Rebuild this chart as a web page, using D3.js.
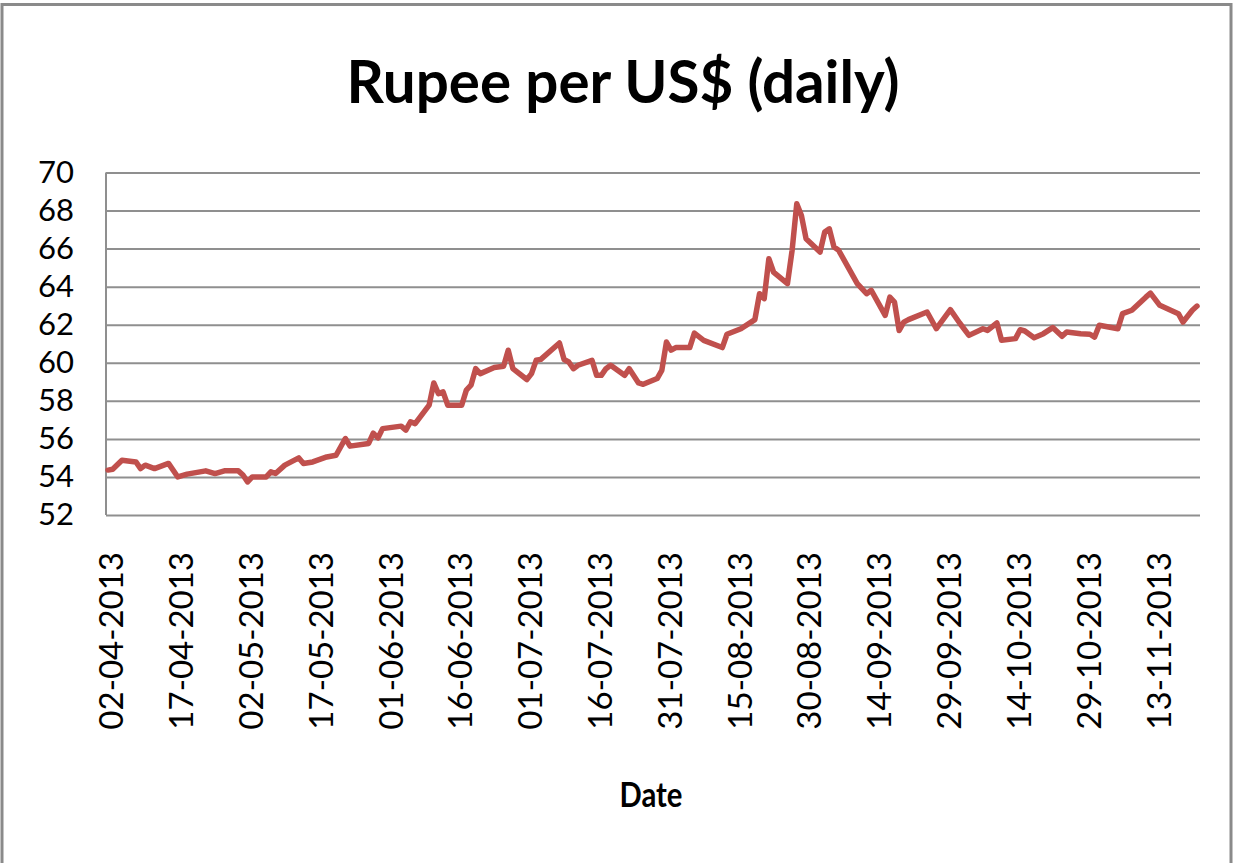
<!DOCTYPE html>
<html>
<head>
<meta charset="utf-8">
<script src="https://cdn.jsdelivr.net/npm/d3@7"></script>
<style>
  html, body { margin: 0; padding: 0; background: #fff; }
  svg { display: block; }
  text { font-family: Lato, "Open Sans", sans-serif; fill: #000; }
</style>
</head>
<body>
<svg id="chart" width="1234" height="863"></svg>
<script>
// daily reference rate (dd-mm-yyyy)
var dates = [
  "02-04-2013","03-04-2013","05-04-2013","08-04-2013","09-04-2013","10-04-2013","12-04-2013","15-04-2013",
  "17-04-2013","19-04-2013","23-04-2013","25-04-2013","27-04-2013","30-04-2013","01-05-2013","02-05-2013",
  "03-05-2013","06-05-2013","07-05-2013","08-05-2013","10-05-2013","13-05-2013","14-05-2013","16-05-2013",
  "19-05-2013","21-05-2013","23-05-2013","24-05-2013","28-05-2013","29-05-2013","30-05-2013","31-05-2013",
  "04-06-2013","05-06-2013","06-06-2013","07-06-2013","10-06-2013","11-06-2013","12-06-2013","13-06-2013",
  "14-06-2013","17-06-2013","18-06-2013","19-06-2013","20-06-2013","21-06-2013","24-06-2013","26-06-2013",
  "27-06-2013","28-06-2013","01-07-2013","02-07-2013","03-07-2013","04-07-2013","08-07-2013","09-07-2013",
  "10-07-2013","11-07-2013","12-07-2013","15-07-2013","16-07-2013","17-07-2013","18-07-2013","19-07-2013",
  "22-07-2013","23-07-2013","25-07-2013","26-07-2013","29-07-2013","30-07-2013","31-07-2013","01-08-2013",
  "02-08-2013","05-08-2013","06-08-2013","08-08-2013","12-08-2013","13-08-2013","16-08-2013","19-08-2013",
  "20-08-2013","21-08-2013","22-08-2013","23-08-2013","26-08-2013","27-08-2013","28-08-2013","29-08-2013",
  "30-08-2013","02-09-2013","03-09-2013","04-09-2013","05-09-2013","06-09-2013","10-09-2013","12-09-2013",
  "13-09-2013","16-09-2013","17-09-2013","18-09-2013","19-09-2013","20-09-2013","21-09-2013","25-09-2013",
  "27-09-2013","30-09-2013","02-10-2013","04-10-2013","07-10-2013","08-10-2013","10-10-2013","11-10-2013",
  "14-10-2013","15-10-2013","16-10-2013","18-10-2013","20-10-2013","22-10-2013","24-10-2013","25-10-2013",
  "28-10-2013","30-10-2013","31-10-2013","01-11-2013","05-11-2013","06-11-2013","08-11-2013","11-11-2013",
  "12-11-2013","14-11-2013","18-11-2013","19-11-2013","21-11-2013","22-11-2013"
];

var rates = [
  54.36,54.40,54.88,54.79,54.44,54.62,54.44,54.71,
  54.00,54.15,54.32,54.18,54.32,54.32,54.10,53.74,
  54.00,54.00,54.27,54.18,54.62,55.00,54.71,54.79,
  55.05,55.14,56.02,55.62,55.76,56.30,56.05,56.54,
  56.67,56.46,56.90,56.80,57.77,58.94,58.38,58.47,
  57.77,57.77,58.56,58.82,59.69,59.43,59.75,59.82,
  60.66,59.69,59.12,59.43,60.13,60.18,61.04,60.17,
  60.04,59.69,59.87,60.13,59.34,59.34,59.69,59.87,
  59.34,59.69,58.94,58.87,59.17,59.60,61.09,60.66,
  60.80,60.80,61.56,61.18,60.80,61.50,61.79,62.27,
  63.63,63.37,65.47,64.77,64.16,65.91,68.36,67.74,
  66.52,65.82,66.87,67.04,66.08,65.91,64.16,63.63,
  63.81,62.49,63.45,63.19,61.70,62.14,62.27,62.67,
  61.79,62.79,62.09,61.44,61.79,61.70,62.09,61.18,
  61.27,61.74,61.67,61.32,61.53,61.85,61.39,61.62,
  61.53,61.50,61.35,61.97,61.79,62.58,62.76,63.45,
  63.66,63.02,62.58,62.14,62.76,62.98
];

var tickDates = [
  "02-04-2013","17-04-2013","02-05-2013","17-05-2013","01-06-2013","16-06-2013",
  "01-07-2013","16-07-2013","31-07-2013","15-08-2013","30-08-2013","14-09-2013",
  "29-09-2013","14-10-2013","29-10-2013","13-11-2013"
];

var yTicks = [52, 54, 56, 58, 60, 62, 64, 66, 68, 70];

var parseDate = d3.timeParse("%d-%m-%Y"),
    formatDate = d3.timeFormat("%d-%m-%Y");

var data = dates.map(function(d, i) {
  return {date: parseDate(d), rate: rates[i]};
});

var plot = {left: 106, right: 1200, top: 172.5, bottom: 515};

var svg = d3.select("#chart");

// outer chart border
svg.append("rect")
    .attr("x", 2)
    .attr("y", 4.5)
    .attr("width", 1229)
    .attr("height", 900)
    .attr("fill", "none")
    .attr("stroke", "#8a8a8a")
    .attr("stroke-width", 3);

var x = d3.scaleTime()
    .domain([parseDate("02-04-2013"), parseDate("22-11-2013")])
    .range([108, 1197]);

var y = d3.scaleLinear()
    .domain([52, 70])
    .range([plot.bottom, plot.top]);

// gridlines + y labels
var yAxis = svg.append("g")
    .attr("transform", "translate(" + plot.left + ",0)")
    .call(d3.axisLeft(y)
        .tickValues(yTicks)
        .tickSize(-(plot.right - plot.left))
        .tickPadding(32)
        .tickFormat(d3.format("d")));

yAxis.select(".domain").remove();
yAxis.selectAll("line")
    .attr("stroke", "#8f8f8f")
    .attr("stroke-width", 2);
yAxis.selectAll("text")
    .attr("font-size", 31)
    .attr("fill", "#000");

// left axis line
svg.append("line")
    .attr("x1", plot.left).attr("x2", plot.left)
    .attr("y1", plot.top).attr("y2", plot.bottom)
    .attr("stroke", "#8f8f8f")
    .attr("stroke-width", 2);

// x labels, rotated
var xAxis = svg.append("g")
    .attr("transform", "translate(0," + plot.bottom + ")")
    .call(d3.axisBottom(x)
        .tickValues(tickDates.map(parseDate))
        .tickSize(0)
        .tickFormat(formatDate));

xAxis.select(".domain").remove();
xAxis.selectAll("text")
    .attr("font-size", 33)
    .attr("fill", "#000")
    .attr("text-anchor", "end")
    .attr("transform", "translate(3,0) rotate(-90)")
    .attr("x", -37)
    .attr("y", 0)
    .attr("dy", "0.36em");

var line = d3.line()
    .x(function(d) { return x(d.date); })
    .y(function(d) { return y(d.rate); });

svg.append("path")
    .datum(data)
    .attr("d", line)
    .attr("fill", "none")
    .attr("stroke", "#c0504d")
    .attr("stroke-width", 5.5)
    .attr("stroke-linejoin", "round")
    .attr("stroke-linecap", "round");

svg.append("text")
    .attr("x", 623)
    .attr("y", 103)
    .attr("text-anchor", "middle")
    .attr("font-size", 60)
    .attr("font-weight", "bold")
    .attr("textLength", 553)
    .attr("lengthAdjust", "spacingAndGlyphs")
    .text("Rupee per US$ (daily)");

svg.append("text")
    .attr("x", 651)
    .attr("y", 807)
    .attr("text-anchor", "middle")
    .attr("font-size", 35)
    .attr("font-weight", "bold")
    .attr("textLength", 63)
    .attr("lengthAdjust", "spacingAndGlyphs")
    .text("Date");
</script>
</body>
</html>
